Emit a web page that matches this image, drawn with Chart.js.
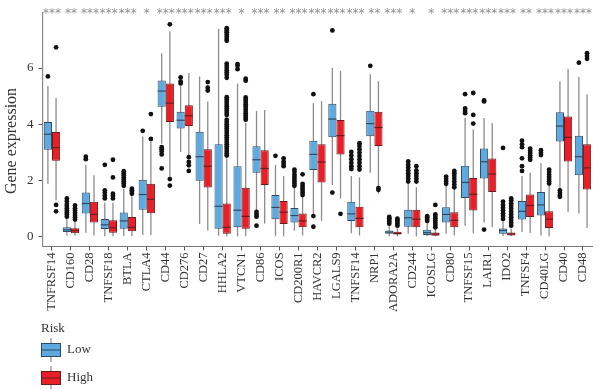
<!DOCTYPE html>
<html>
<head>
<meta charset="utf-8">
<script src="https://cdn.jsdelivr.net/npm/chart.js@4.4.1/dist/chart.umd.min.js"></script>
<style>
  html, body { margin: 0; padding: 0; background: #fff; }
  #wrap { width: 600px; height: 389px; }
</style>
</head>
<body>
<div id="wrap"><canvas id="boxplot" width="600" height="389"></canvas></div>
<script>
// genes on the x axis
var genes = ['TNFRSF14', 'CD160', 'CD28', 'TNFSF18', 'BTLA', 'CTLA4', 'CD44', 'CD276', 'CD27', 'HHLA2',
    'VTCN1', 'CD86', 'ICOS', 'CD200R1', 'HAVCR2', 'LGALS9', 'TNFSF14', 'NRP1', 'ADORA2A', 'CD244',
    'ICOSLG', 'CD80', 'TNFSF15', 'LAIR1', 'IDO2', 'TNFSF4', 'CD40LG', 'CD40', 'CD48'];

// significance marks above each gene
var sigMarks = ['***', '**', '***', '***', '***', '*', '***', '***', '***', '***',
    '*', '***', '**', '***', '***', '***', '***', '**', '***', '*',
    '*', '***', '***', '***', '***', '**', '***', '***', '***'];

var yTicks = [0, 2, 4, 6];

// [whisker low, q1, median, q3, whisker high]
var lowBox = [
    [1.87, 3.09, 3.64, 4.08, 5.36], [0.03, 0.15, 0.23, 0.32, 0.62], [0.13, 0.81, 1.17, 1.56, 2.55],
    [0.00, 0.26, 0.41, 0.62, 1.20], [0.00, 0.27, 0.55, 0.85, 1.70], [0.05, 0.95, 1.49, 2.02, 3.56],
    [3.30, 4.62, 5.18, 5.56, 6.53], [3.01, 3.84, 4.14, 4.44, 5.36], [0.44, 1.98, 2.84, 3.73, 5.70],
    [0.02, 0.27, 1.07, 3.28, 7.40], [0.00, 0.32, 0.93, 2.50, 5.45], [0.89, 2.27, 2.73, 3.21, 4.47],
    [0.00, 0.61, 1.03, 1.47, 2.55], [0.20, 0.49, 0.74, 1.01, 1.75], [0.66, 2.36, 2.92, 3.41, 4.75],
    [1.83, 3.53, 4.18, 4.73, 6.01], [0.11, 0.55, 0.80, 1.23, 2.15], [2.27, 3.57, 4.02, 4.48, 5.78],
    [0.00, 0.09, 0.15, 0.21, 0.38], [0.09, 0.34, 0.66, 0.95, 1.87], [0.00, 0.05, 0.13, 0.23, 0.49],
    [0.09, 0.49, 0.78, 1.04, 1.80], [0.38, 1.37, 1.92, 2.52, 4.22], [0.49, 2.06, 2.66, 3.13, 4.22],
    [0.00, 0.09, 0.21, 0.28, 0.55], [0.15, 0.60, 0.89, 1.26, 2.15], [0.03, 0.74, 1.12, 1.58, 2.61],
    [1.70, 3.38, 3.93, 4.42, 5.53], [0.81, 2.18, 2.84, 3.59, 5.68]
];
var highBox = [
    [1.29, 2.69, 3.16, 3.72, 4.93], [0.02, 0.11, 0.21, 0.29, 0.55], [0.03, 0.49, 0.78, 1.23, 2.18],
    [0.00, 0.13, 0.30, 0.57, 1.20], [0.00, 0.18, 0.32, 0.69, 1.45], [0.05, 0.82, 1.32, 1.87, 3.36],
    [1.98, 4.08, 4.75, 5.45, 7.31], [2.84, 3.93, 4.30, 4.67, 5.82], [0.21, 1.74, 2.50, 3.10, 4.81],
    [0.00, 0.09, 0.32, 1.17, 2.78], [0.00, 0.27, 0.71, 1.73, 4.05], [0.46, 1.83, 2.42, 3.07, 4.50],
    [0.00, 0.44, 0.86, 1.26, 2.15], [0.03, 0.32, 0.55, 0.81, 1.40], [0.55, 1.92, 2.65, 3.28, 4.82],
    [1.35, 2.92, 3.59, 4.15, 5.90], [0.03, 0.32, 0.64, 1.05, 2.10], [1.52, 3.22, 3.88, 4.44, 5.53],
    [0.00, 0.06, 0.10, 0.16, 0.28], [0.00, 0.32, 0.61, 0.95, 1.75], [0.00, 0.02, 0.08, 0.14, 0.28],
    [0.03, 0.32, 0.57, 0.86, 1.70], [0.11, 0.92, 1.50, 2.08, 3.81], [0.32, 1.58, 2.22, 2.77, 4.04],
    [0.00, 0.03, 0.08, 0.14, 0.28], [0.12, 0.69, 1.10, 1.49, 2.27], [0.00, 0.30, 0.61, 0.89, 1.81],
    [0.87, 2.67, 3.53, 4.27, 5.97], [0.30, 1.67, 2.44, 3.28, 5.07]
];

var lowOutliers = [
    [5.70], [0.70, 0.78, 0.85, 0.92, 1.00, 1.08, 1.15, 1.25, 1.35], [2.75, 2.84],
    [1.35, 1.45, 1.55, 1.64, 2.55], [1.80, 1.88, 1.95, 2.02, 2.10, 2.18, 2.25, 2.32], [3.76],
    [3.18, 3.10, 3.02, 2.92, 2.42], [5.45, 5.52, 5.67], [],
    [], [5.96, 6.08, 6.14], [0.87, 0.78, 0.70, 0.38],
    [2.87], [1.80, 1.88, 1.96, 2.04, 2.12, 2.20, 2.30, 2.38], [5.07, 0.72, 0.34],
    [7.34, 1.56], [2.40, 2.50, 2.62, 2.75, 2.88, 3.01], [6.08],
    [0.45, 0.52, 0.58, 0.64, 0.69], [1.95, 2.05, 2.15, 2.25, 2.35, 2.45, 2.55, 2.67], [0.55, 0.62, 0.68, 0.72],
    [1.87, 1.95, 2.04, 2.13], [4.39, 4.47, 4.56, 5.07], [4.81, 4.85, 0.24],
    [0.62, 0.72, 0.82, 0.92, 1.02, 1.12, 1.24, 3.15], [2.33, 2.50, 2.78, 3.18, 3.28, 3.41], [2.90, 2.98, 3.07],
    [1.64, 1.55, 1.47, 1.41], [6.19]
];
var highOutliers = [
    [6.74, 1.12, 0.89], [0.60, 0.68, 0.76, 0.84, 0.92, 1.00, 1.10], [],
    [1.35, 1.45, 1.52, 2.10, 2.73], [1.52, 1.58, 1.64, 1.70], [3.47, 4.36],
    [7.56, 2.04, 1.81], [2.82, 2.65, 2.53, 2.33], [5.20, 5.30, 5.50],
    [7.42, 7.35, 7.28, 7.20, 7.12, 7.04, 6.97, 6.16, 6.08, 6.00, 5.92, 5.84, 5.76, 5.65,
        4.96, 4.88, 4.80, 4.72, 4.64, 4.56, 4.48, 4.40, 4.33, 4.16, 4.08, 4.00, 3.92, 3.84,
        3.76, 3.68, 3.60, 3.52, 3.44, 3.36, 3.28, 3.20, 3.12, 3.04, 2.96, 2.88],
    [5.62, 5.55, 4.95, 4.87, 4.79, 4.71, 4.63, 4.55, 4.47, 4.39, 4.31, 4.23, 4.16], [],
    [2.50, 2.58, 2.66, 2.78], [1.47, 1.55, 1.63, 1.71, 1.79, 1.87, 2.21], [],
    [0.80], [2.38, 2.50, 2.62, 2.74, 2.86, 2.98, 3.10, 3.22, 3.32], [1.66, 1.72],
    [0.38, 0.45, 0.52, 0.58, 0.63], [1.95, 2.05, 2.15, 2.25, 2.35, 2.50], [0.32, 0.40, 0.48, 0.56, 0.64, 0.72, 0.78, 1.12],
    [1.75, 1.85, 1.95, 2.05, 2.15, 2.25, 2.33], [4.02, 4.33, 5.11], [],
    [0.38, 0.48, 0.58, 0.68, 0.78, 0.88, 0.98, 1.08, 1.18, 1.28, 1.35], [2.73, 2.81, 2.89, 2.97, 3.05, 3.13], [1.88, 1.96, 2.04, 2.12, 2.20, 2.30, 2.38],
    [], [6.33, 6.43, 6.53]
];

var groups = ['Low', 'High'];
var fills = ['#5ea9df', '#e81f27'];
var edges = ['#2e4b63', '#6e1a1a'];
var boxSets = [lowBox, highBox];
var outlierSets = [lowOutliers, highOutliers];
var serif = "'Liberation Serif', 'DejaVu Serif', serif";

// whiskers behind the boxes, medians / outliers / labels on top
var boxExtras = {
    id: 'boxExtras',
    beforeDatasetsDraw: function(chart) {
        var ctx = chart.ctx, y = chart.scales.y;
        ctx.save();
        ctx.strokeStyle = '#8c8c8c';
        ctx.lineWidth = 1.3;
        boxSets.forEach(function(stats, d) {
            chart.getDatasetMeta(d).data.forEach(function(bar, i) {
                ctx.beginPath();
                ctx.moveTo(bar.x, y.getPixelForValue(stats[i][0]));
                ctx.lineTo(bar.x, y.getPixelForValue(stats[i][4]));
                ctx.stroke();
            });
        });
        ctx.restore();
    },
    afterDatasetsDraw: function(chart) {
        var ctx = chart.ctx, x = chart.scales.x, y = chart.scales.y;
        ctx.save();
        boxSets.forEach(function(stats, d) {
            chart.getDatasetMeta(d).data.forEach(function(bar, i) {
                var py = y.getPixelForValue(stats[i][2]);
                ctx.strokeStyle = edges[d];
                ctx.lineWidth = 1.2;
                ctx.beginPath();
                ctx.moveTo(bar.x - bar.width / 2, py);
                ctx.lineTo(bar.x + bar.width / 2, py);
                ctx.stroke();
                ctx.fillStyle = '#111';
                outlierSets[d][i].forEach(function(v) {
                    ctx.beginPath();
                    ctx.arc(bar.x, y.getPixelForValue(v), 2.4, 0, Math.PI * 2);
                    ctx.fill();
                });
            });
        });

        // significance stars
        ctx.fillStyle = '#8f8f8f';
        ctx.font = "12px 'DejaVu Sans'";
        ctx.textAlign = 'center';
        ctx.textBaseline = 'alphabetic';
        sigMarks.forEach(function(s, i) {
            ctx.fillText(s, x.getPixelForValue(i), 17);
        });

        // y title
        ctx.save();
        ctx.translate(12, 141);
        ctx.rotate(-Math.PI / 2);
        ctx.fillStyle = '#333';
        ctx.font = '16px ' + serif;
        ctx.textBaseline = 'middle';
        ctx.fillText('Gene expression', 0, 0);
        ctx.restore();

        // legend
        ctx.textAlign = 'left';
        ctx.textBaseline = 'middle';
        ctx.fillStyle = '#333';
        ctx.font = '13px ' + serif;
        ctx.fillText('Risk', 41, 329);
        var keyTop = [343, 371];
        groups.forEach(function(g, d) {
            var t = keyTop[d];
            ctx.strokeStyle = '#8c8c8c';
            ctx.lineWidth = 1.2;
            ctx.beginPath();
            ctx.moveTo(51, t - 5);
            ctx.lineTo(51, t + 19);
            ctx.stroke();
            ctx.fillStyle = fills[d];
            ctx.fillRect(41, t, 20, 14);
            ctx.strokeStyle = edges[d];
            ctx.lineWidth = 1;
            ctx.strokeRect(41.5, t + 0.5, 19, 13);
            ctx.beginPath();
            ctx.moveTo(41, t + 7);
            ctx.lineTo(61, t + 7);
            ctx.stroke();
            ctx.fillStyle = '#333';
            ctx.fillText(g, 67, t + 7);
        });
        ctx.restore();
    }
};

var ctx = document.getElementById('boxplot').getContext('2d');
window.myBox = new Chart(ctx, {
    type: 'bar',
    data: {
        labels: genes,
        datasets: groups.map(function(g, d) {
            return {
                label: g,
                data: boxSets[d].map(function(s) { return [s[1], s[3]]; }),
                backgroundColor: fills[d],
                borderColor: edges[d],
                borderWidth: 1,
                borderSkipped: false,
                categoryPercentage: 0.86,
                barPercentage: 1
            };
        })
    },
    options: {
        responsive: false,
        animation: false,
        layout: { padding: { left: 0, right: 2, top: 4, bottom: 0 } },
        plugins: {
            legend: { display: false },
            tooltip: { enabled: false }
        },
        scales: {
            x: {
                afterFit: function(s) { s.height = 142.6; },
                grid: { drawOnChartArea: false, offset: false, tickLength: 4, color: '#555' },
                border: { display: true, color: '#777', width: 1 },
                ticks: {
                    autoSkip: false, minRotation: 90, maxRotation: 90, padding: 2,
                    color: '#333', font: { family: serif, size: 12.5 }
                }
            },
            y: {
                min: -0.36,
                max: 7.97,
                afterFit: function(s) { s.width = 42.5; },
                afterBuildTicks: function(s) { s.ticks = yTicks.map(function(v) { return { value: v }; }); },
                grid: { drawOnChartArea: false, tickLength: 4, color: '#555' },
                border: { display: true, color: '#888', width: 1.2 },
                ticks: { padding: 5, color: '#333', font: { family: serif, size: 13 } }
            }
        }
    },
    plugins: [boxExtras]
});
</script>
</body>
</html>
